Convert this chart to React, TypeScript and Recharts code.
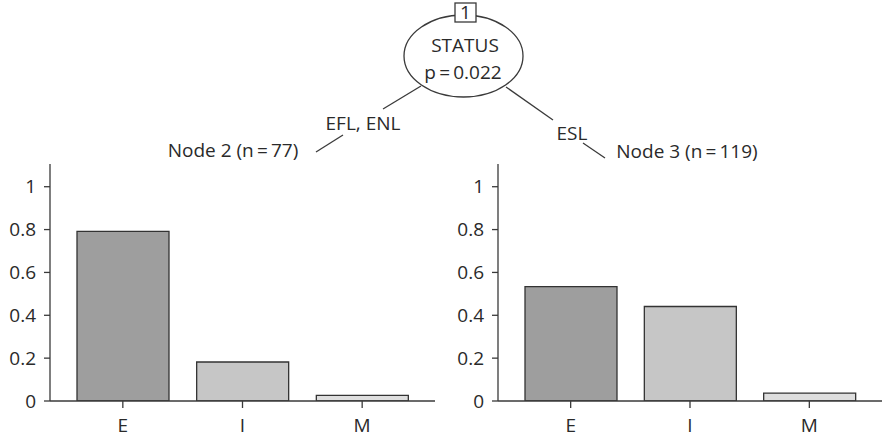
import React from "react";
import { BarChart, Bar, Cell, XAxis, YAxis } from "recharts";

const categories = ["E", "I", "M"];
const node2Values = [0.792, 0.182, 0.026];
const node3Values = [0.534, 0.441, 0.037];
const yTicks = [0, 0.2, 0.4, 0.6, 0.8, 1];
const yMax = 1.106;
const barColors = ["#9e9e9e", "#c6c6c6", "#dedede"];

const FONT = "'Open Sans', Lato, sans-serif";
const INK = "#2a2a2a";
const LINE = "#3a3a3a";

const tickStyle = { fontSize: 19, fill: INK, fontFamily: FONT };

interface PanelProps {
  values: number[];
  left: number;
  width: number;
}

const NodePanel: React.FC<PanelProps> = ({ values, left, width }) => {
  const data = categories.map((name, i) => ({ name, value: values[i] }));
  return (
    <div style={{ position: "absolute", left, top: 150 }}>
      <BarChart
        width={width}
        height={288}
        data={data}
        margin={{ top: 14, right: width > 440 ? 10 : 1, left: 0, bottom: 0 }}
      >
        <XAxis
          dataKey="name"
          padding={{ left: 13, right: 13 }}
          axisLine={{ stroke: LINE, strokeWidth: 1.3 }}
          tickLine={{ stroke: LINE, strokeWidth: 1.3 }}
          tickSize={7}
          tickMargin={11}
          height={37}
          tick={tickStyle}
        />
        <XAxis
          xAxisId="top"
          dataKey="name"
          orientation="top"
          height={0}
          tick={false}
          tickLine={false}
          axisLine={{ stroke: LINE, strokeWidth: 1.3 }}
        />
        <YAxis
          domain={[0, yMax]}
          ticks={yTicks}
          width={50}
          allowDataOverflow
          axisLine={{ stroke: LINE, strokeWidth: 1.3 }}
          tickLine={{ stroke: LINE, strokeWidth: 1.3 }}
          tickSize={6}
          tickMargin={8}
          tick={tickStyle}
        />
        <YAxis
          yAxisId="right"
          orientation="right"
          domain={[0, yMax]}
          width={0}
          tick={false}
          tickLine={false}
          axisLine={{ stroke: LINE, strokeWidth: 1.3 }}
        />
        <Bar
          dataKey="value"
          barSize={92}
          stroke="#333"
          strokeWidth={1.3}
          isAnimationActive={false}
        >
          {data.map((d, i) => (
            <Cell key={d.name} fill={barColors[i]} />
          ))}
        </Bar>
      </BarChart>
    </div>
  );
};

const TreeTop: React.FC = () => (
  <svg
    width={883}
    height={170}
    style={{ position: "absolute", left: 0, top: 0 }}
    fontFamily={FONT}
    fontSize={19}
    fill={INK}
  >
    {/* edges, broken around their labels */}
    <g stroke={LINE} strokeWidth={1.3}>
      <line x1={421} y1={86} x2={383} y2={109} />
      <line x1={343} y1={135} x2={316} y2={152} />
      <line x1={506} y1={87} x2={553} y2={120} />
      <line x1={583} y1={143} x2={605} y2={158} />
    </g>
    <ellipse cx={463.5} cy={56} rx={59.5} ry={41} fill="white" stroke={LINE} strokeWidth={1.3} />
    <rect x={455} y={3} width={21} height={19} fill="white" stroke={LINE} strokeWidth={1.3} />
    <text x={465.5} y={19} textAnchor="middle">1</text>
    <text x={465} y={52} textAnchor="middle">STATUS</text>
    <text x={463} y={79} textAnchor="middle">p{"\u2009=\u2009"}0.022</text>
    <text x={363} y={130} textAnchor="middle">EFL, ENL</text>
    <text x={572} y={140} textAnchor="middle">ESL</text>
    <text x={233} y={157} textAnchor="middle">Node 2 (n{"\u2009=\u2009"}77)</text>
    <text x={687} y={158} textAnchor="middle">Node 3 (n{"\u2009=\u2009"}119)</text>
  </svg>
);

export default function App() {
  return (
    <div
      style={{
        position: "absolute",
        left: 0,
        top: 0,
        width: 883,
        height: 438,
        background: "white",
        overflow: "hidden",
      }}
    >
      <TreeTop />
      <NodePanel values={node2Values} left={0} width={445} />
      <NodePanel values={node3Values} left={448} width={435} />
    </div>
  );
}
